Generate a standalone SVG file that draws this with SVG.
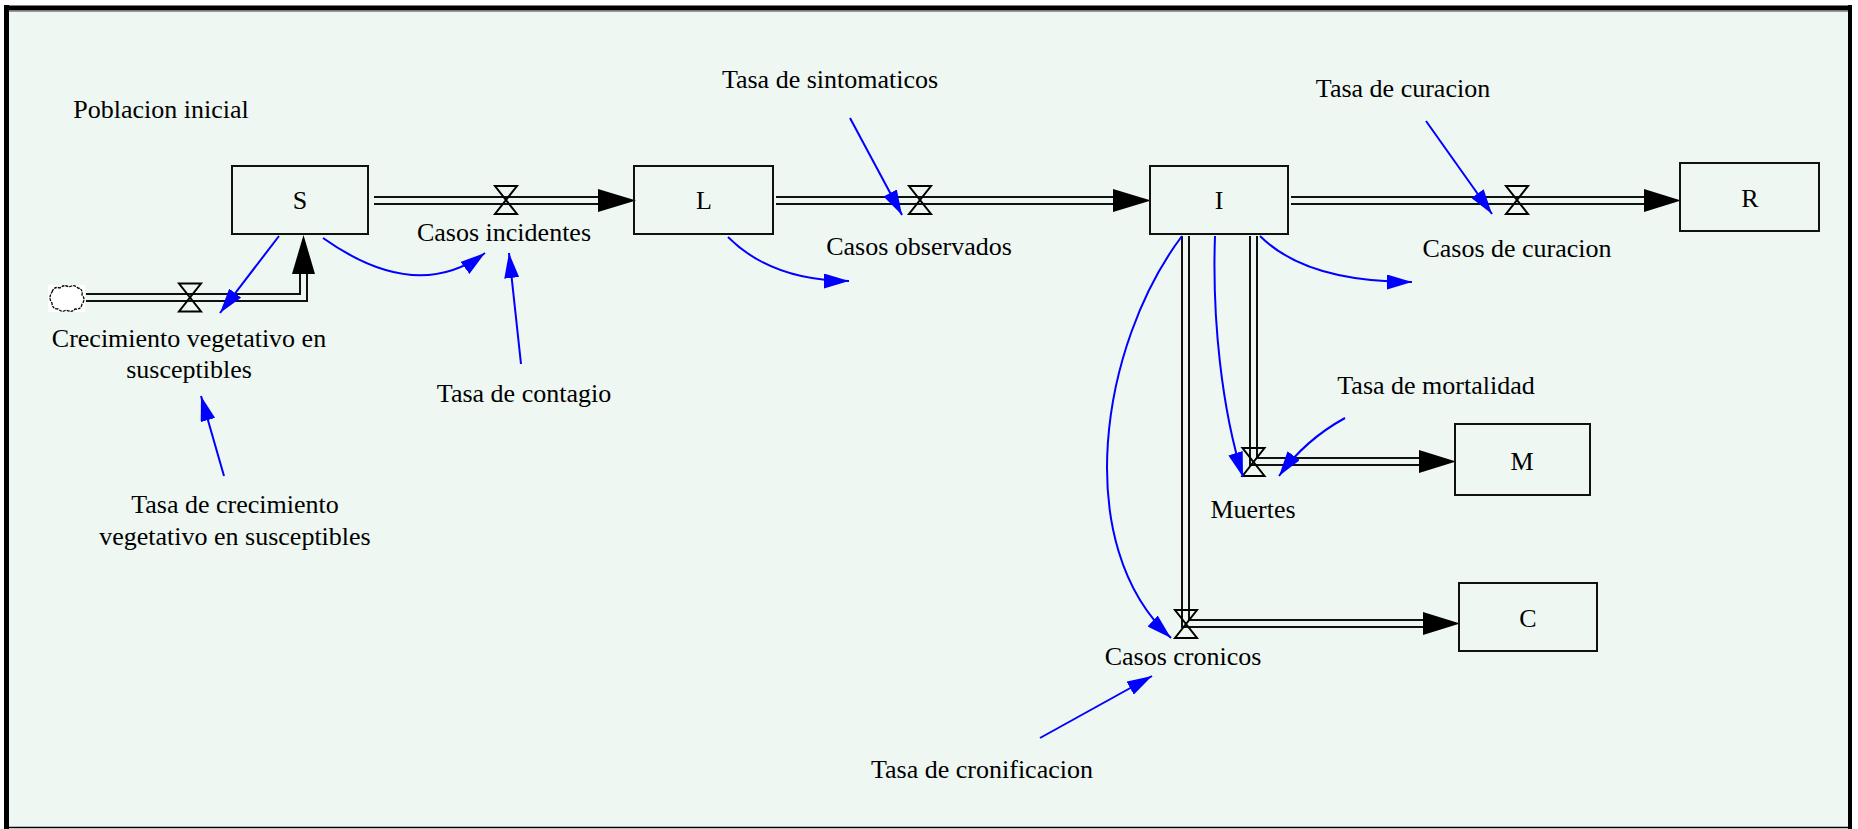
<svg xmlns="http://www.w3.org/2000/svg" xmlns:xlink="http://www.w3.org/1999/xlink" width="1858" height="829" viewBox="0 0 1858 829">
<style>
text{font-family:"Liberation Serif","Times New Roman",serif;font-size:26px;fill:#000;text-anchor:middle}
.box{fill:none;stroke:#111;stroke-width:2}
.pipeo{fill:none;stroke:#111;stroke-width:9;stroke-linejoin:miter;stroke-linecap:butt}
.pipei{fill:none;stroke:#EEF7F2;stroke-width:5;stroke-linejoin:miter;stroke-linecap:butt}
.head{fill:#000}
.valve{fill:none;stroke:#000;stroke-width:2}
.link{fill:none;stroke:#0000FF;stroke-width:2;marker-end:url(#ah)}
</style>
<defs>
<marker id="ah" viewBox="0 0 25 15" refX="25" refY="7.5" markerWidth="25" markerHeight="15" orient="auto" markerUnits="userSpaceOnUse">
<path d="M0,0 L25,7.5 L0,15 Z" fill="#0000FF"/>
</marker>
<path id="vlv" d="M-11,-14 H11 L-11,14 H11 Z"/>
</defs>
<rect x="0" y="0" width="1858" height="829" fill="#fff"/>
<rect x="8" y="10" width="1841" height="817" fill="#EEF7F2"/>
<g id="frame" fill="none" stroke="#000">
<line x1="6.5" y1="5" x2="6.5" y2="829" stroke-width="5"/>
<line x1="4" y1="8" x2="1852" y2="8" stroke-width="5"/>
<line x1="1850" y1="5" x2="1850" y2="829" stroke-width="4"/>
<line x1="4" y1="827.5" x2="1852" y2="827.5" stroke-width="1.5"/>
<line x1="9" y1="11.5" x2="1848" y2="11.5" stroke="#999" stroke-width="1"/>
</g>

<g id="connectors">
<!-- flow pipes -->
<path class="pipeo" d="M374,200.5 H600"/><path class="pipei" d="M374,200.5 H600"/>
<polygon class="head" points="598,189 636,200.5 598,212"/>
<path class="pipeo" d="M776,200.5 H1115"/><path class="pipei" d="M776,200.5 H1115"/>
<polygon class="head" points="1113,189 1151,200.5 1113,212"/>
<path class="pipeo" d="M1291,200.5 H1646"/><path class="pipei" d="M1291,200.5 H1646"/>
<polygon class="head" points="1644,189 1681,200.5 1644,212"/>
<path class="pipeo" d="M86,297.5 H303.5 V272"/><path class="pipei" d="M86,297.5 H303.5 V272"/>
<polygon class="head" points="292,274 303.5,235 315,274"/>
<path class="pipeo" d="M1253.5,236 V461.5 H1421"/><path class="pipei" d="M1253.5,236 V461.5 H1421"/>
<polygon class="head" points="1419,450 1456,461.5 1419,473"/>
<path class="pipeo" d="M1185.5,236 V623.5 H1425"/><path class="pipei" d="M1185.5,236 V623.5 H1425"/>
<polygon class="head" points="1423,612 1460,623.5 1423,635"/>
<!-- valves -->
<use xlink:href="#vlv" class="valve" x="506" y="200"/>
<use xlink:href="#vlv" class="valve" x="920" y="200"/>
<use xlink:href="#vlv" class="valve" x="1517" y="200"/>
<use xlink:href="#vlv" class="valve" x="190" y="297.5"/>
<use xlink:href="#vlv" class="valve" x="1253.5" y="462"/>
<use xlink:href="#vlv" class="valve" x="1186" y="624"/>
<!-- cloud -->
<rect x="48" y="285" width="37" height="27" fill="#fff"/>
<path d="M52,292 q2,-6 8,-4 q4,-4 9,-1 q5,-3 9,1 q5,1 4,7 q4,4 0,9 q-1,6 -7,5 q-3,4 -9,1 q-4,3 -8,-1 q-6,0 -6,-6 q-4,-5 0,-11 Z" fill="#fff" stroke="#000" stroke-width="1.3" stroke-dasharray="3 1"/>
<!-- information links -->
<path class="link" d="M279,236 L220,313"/>
<path class="link" d="M323,238 Q416,304 485,253"/>
<path class="link" d="M521,364 L509,253"/>
<path class="link" d="M224,476 L201,396"/>
<path class="link" d="M728,237 Q772,281 849,281"/>
<path class="link" d="M850,118 L902,215"/>
<path class="link" d="M1426,121 L1492,214"/>
<path class="link" d="M1260,236 Q1306,282 1412,282"/>
<path class="link" d="M1215,236 C1212,320 1222,410 1243,477"/>
<path class="link" d="M1345,418 Q1305,440 1279,476"/>
<path class="link" d="M1182,236 C1100,345 1070,545 1171,638"/>
<path class="link" d="M1040,738 L1152,676"/>
</g>

<g id="S"><rect class="box" x="232" y="166" width="136" height="68"/><text x="300" y="209">S</text></g>
<g id="L"><rect class="box" x="634" y="166" width="139" height="68"/><text x="704" y="209">L</text></g>
<g id="I"><rect class="box" x="1150" y="166" width="138" height="68"/><text x="1219" y="209">I</text></g>
<g id="R"><rect class="box" x="1680" y="163" width="139" height="68"/><text x="1750" y="207">R</text></g>
<g id="M"><rect class="box" x="1455" y="424" width="135" height="71"/><text x="1522" y="470">M</text></g>
<g id="C"><rect class="box" x="1459" y="583" width="138" height="68"/><text x="1528" y="627">C</text></g>

<g id="poblacion-inicial"><text x="161" y="118">Poblacion inicial</text></g>
<g id="casos-incidentes"><text x="504" y="241">Casos incidentes</text></g>
<g id="casos-observados"><text x="919" y="255">Casos observados</text></g>
<g id="casos-de-curacion"><text x="1517" y="257">Casos de curacion</text></g>
<g id="tasa-de-sintomaticos"><text x="830" y="88">Tasa de sintomaticos</text></g>
<g id="tasa-de-curacion"><text x="1403" y="97">Tasa de curacion</text></g>
<g id="crecimiento-vegetativo"><text x="189" y="347">Crecimiento vegetativo en</text><text x="189" y="378">susceptibles</text></g>
<g id="tasa-de-contagio"><text x="524" y="402">Tasa de contagio</text></g>
<g id="tasa-de-crecimiento"><text x="235" y="513">Tasa de crecimiento</text><text x="235" y="545">vegetativo en susceptibles</text></g>
<g id="tasa-de-mortalidad"><text x="1436" y="394">Tasa de mortalidad</text></g>
<g id="muertes"><text x="1253" y="518">Muertes</text></g>
<g id="casos-cronicos"><text x="1183" y="665">Casos cronicos</text></g>
<g id="tasa-de-cronificacion"><text x="982" y="778">Tasa de cronificacion</text></g>
</svg>
